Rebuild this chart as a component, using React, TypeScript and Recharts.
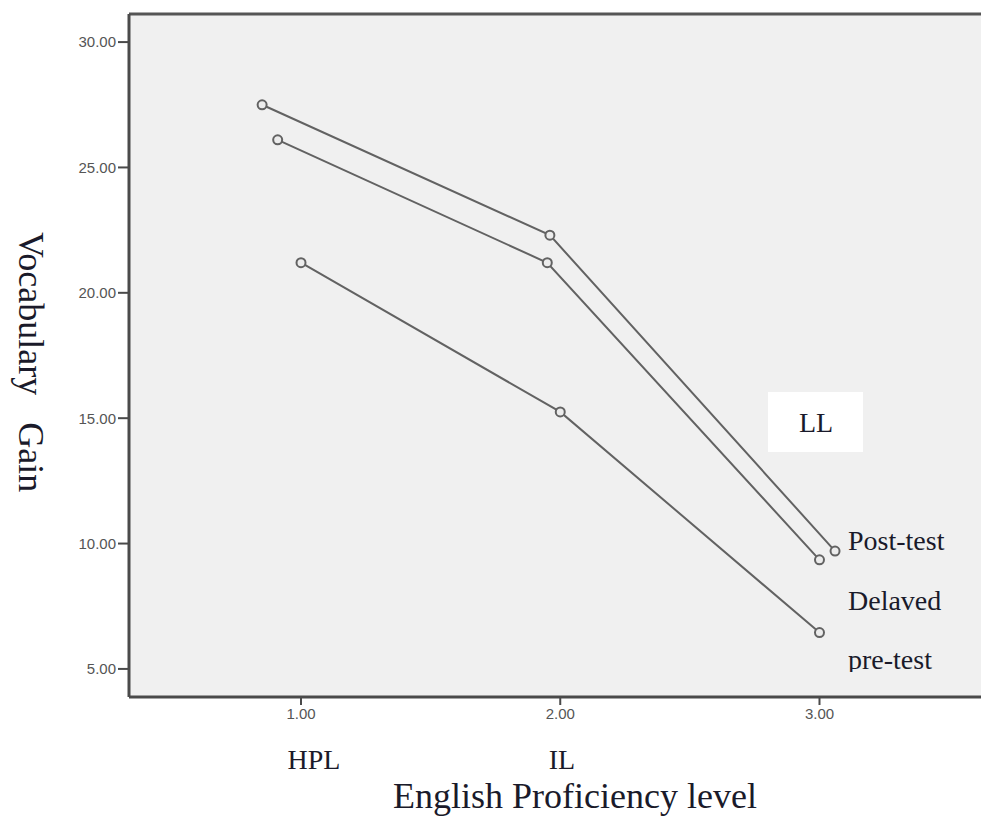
import React from "react";
import { CartesianGrid, Line, LineChart, ReferenceLine, XAxis, YAxis } from "recharts";

// x positions are slightly jittered in the original plot
const postX = [0.85, 1.96, 3.06];
const postY = [27.5, 22.3, 9.7];
const delayedX = [0.91, 1.95, 3.0];
const delayedY = [26.1, 21.2, 9.35];
const preX = [1.0, 2.0, 3.0];
const preY = [21.2, 15.25, 6.45];

const xTicks = [1, 2, 3];
const yTicks = [5, 10, 15, 20, 25, 30];
const levelLabels = ["HPL", "IL", "LL"];
const seriesLabels = ["Post-test", "Delaved", "pre-test"];

const X_DOMAIN: [number, number] = [0.3365, 3.623];
const Y_DOMAIN: [number, number] = [3.88, 31.12];

const toPoints = (xs: number[], ys: number[]) => xs.map((x, i) => ({ x, y: ys[i] }));

const serif = "'Liberation Serif', 'Times New Roman', serif";
const sans = "'Liberation Sans', Arial, sans-serif";
const ink = "#1a1a2a";
const lineColor = "#626262";
const axisColor = "#4a4a4a";

const dot = { r: 4.5, stroke: lineColor, strokeWidth: 2, fill: "#ececec" };

function Overlay() {
  return (
    <svg
      width={981}
      height={817}
      style={{ position: "absolute", left: 0, top: 0, pointerEvents: "none" }}
    >
      <defs>
        <clipPath id="clip-pre">
          <rect x={840} y={630} width={141} height={42} />
        </clipPath>
      </defs>
      <text
        transform="translate(19, 362) rotate(90)"
        textAnchor="middle"
        fontFamily={serif}
        fontSize={36}
        fill={ink}
        style={{ whiteSpace: "pre" }}
      >
        {"Vocabulary   Gain"}
      </text>
      <text x={314} y={769} textAnchor="middle" fontFamily={serif} fontSize={28} fill={ink}>
        {levelLabels[0]}
      </text>
      <text x={562} y={769} textAnchor="middle" fontFamily={serif} fontSize={28} fill={ink}>
        {levelLabels[1]}
      </text>
      <rect x={768} y={392} width={95} height={60} fill="#ffffff" />
      <text x={816} y={432} textAnchor="middle" fontFamily={serif} fontSize={28} fill={ink}>
        {levelLabels[2]}
      </text>
      <text x={848} y={550} fontFamily={serif} fontSize={28} fill={ink}>
        {seriesLabels[0]}
      </text>
      <text x={848} y={610} fontFamily={serif} fontSize={28} fill={ink}>
        {seriesLabels[1]}
      </text>
      <text x={848} y={669} fontFamily={serif} fontSize={28} fill={ink} clipPath="url(#clip-pre)">
        {seriesLabels[2]}
      </text>
      <text x={393} y={808} fontFamily={serif} fontSize={36} fill={ink}>
        English Proficiency level
      </text>
    </svg>
  );
}

export default function App() {
  return (
    <div style={{ position: "absolute", left: 0, top: 0, width: 981, height: 817, background: "#fff" }}>
      <LineChart width={981} height={817} margin={{ top: 14, right: 0, bottom: 0, left: 0 }}>
        <CartesianGrid horizontal={false} vertical={false} stroke="none" fill="#f0f0f0" />
        <XAxis
          type="number"
          dataKey="x"
          domain={X_DOMAIN}
          ticks={xTicks}
          allowDataOverflow
          height={120}
          tickFormatter={(v: number) => v.toFixed(2)}
          tick={{ fill: "#555", fontSize: 15, fontFamily: sans }}
          tickSize={8}
          tickMargin={3}
          axisLine={{ stroke: axisColor, strokeWidth: 3 }}
          tickLine={{ stroke: axisColor, strokeWidth: 2 }}
        />
        <YAxis
          type="number"
          domain={Y_DOMAIN}
          ticks={yTicks}
          allowDataOverflow
          width={129}
          tickFormatter={(v: number) => v.toFixed(2)}
          tick={{ fill: "#555", fontSize: 15, fontFamily: sans }}
          tickSize={11}
          tickMargin={2}
          axisLine={{ stroke: axisColor, strokeWidth: 3 }}
          tickLine={{ stroke: axisColor, strokeWidth: 2 }}
        />
        <ReferenceLine y={Y_DOMAIN[1]} stroke="#555" strokeWidth={3} />
        <Line
          data={toPoints(postX, postY)}
          dataKey="y"
          type="linear"
          stroke={lineColor}
          strokeWidth={2}
          dot={dot}
          isAnimationActive={false}
        />
        <Line
          data={toPoints(delayedX, delayedY)}
          dataKey="y"
          type="linear"
          stroke={lineColor}
          strokeWidth={2}
          dot={dot}
          isAnimationActive={false}
        />
        <Line
          data={toPoints(preX, preY)}
          dataKey="y"
          type="linear"
          stroke={lineColor}
          strokeWidth={2}
          dot={dot}
          isAnimationActive={false}
        />
      </LineChart>
      <Overlay />
    </div>
  );
}
